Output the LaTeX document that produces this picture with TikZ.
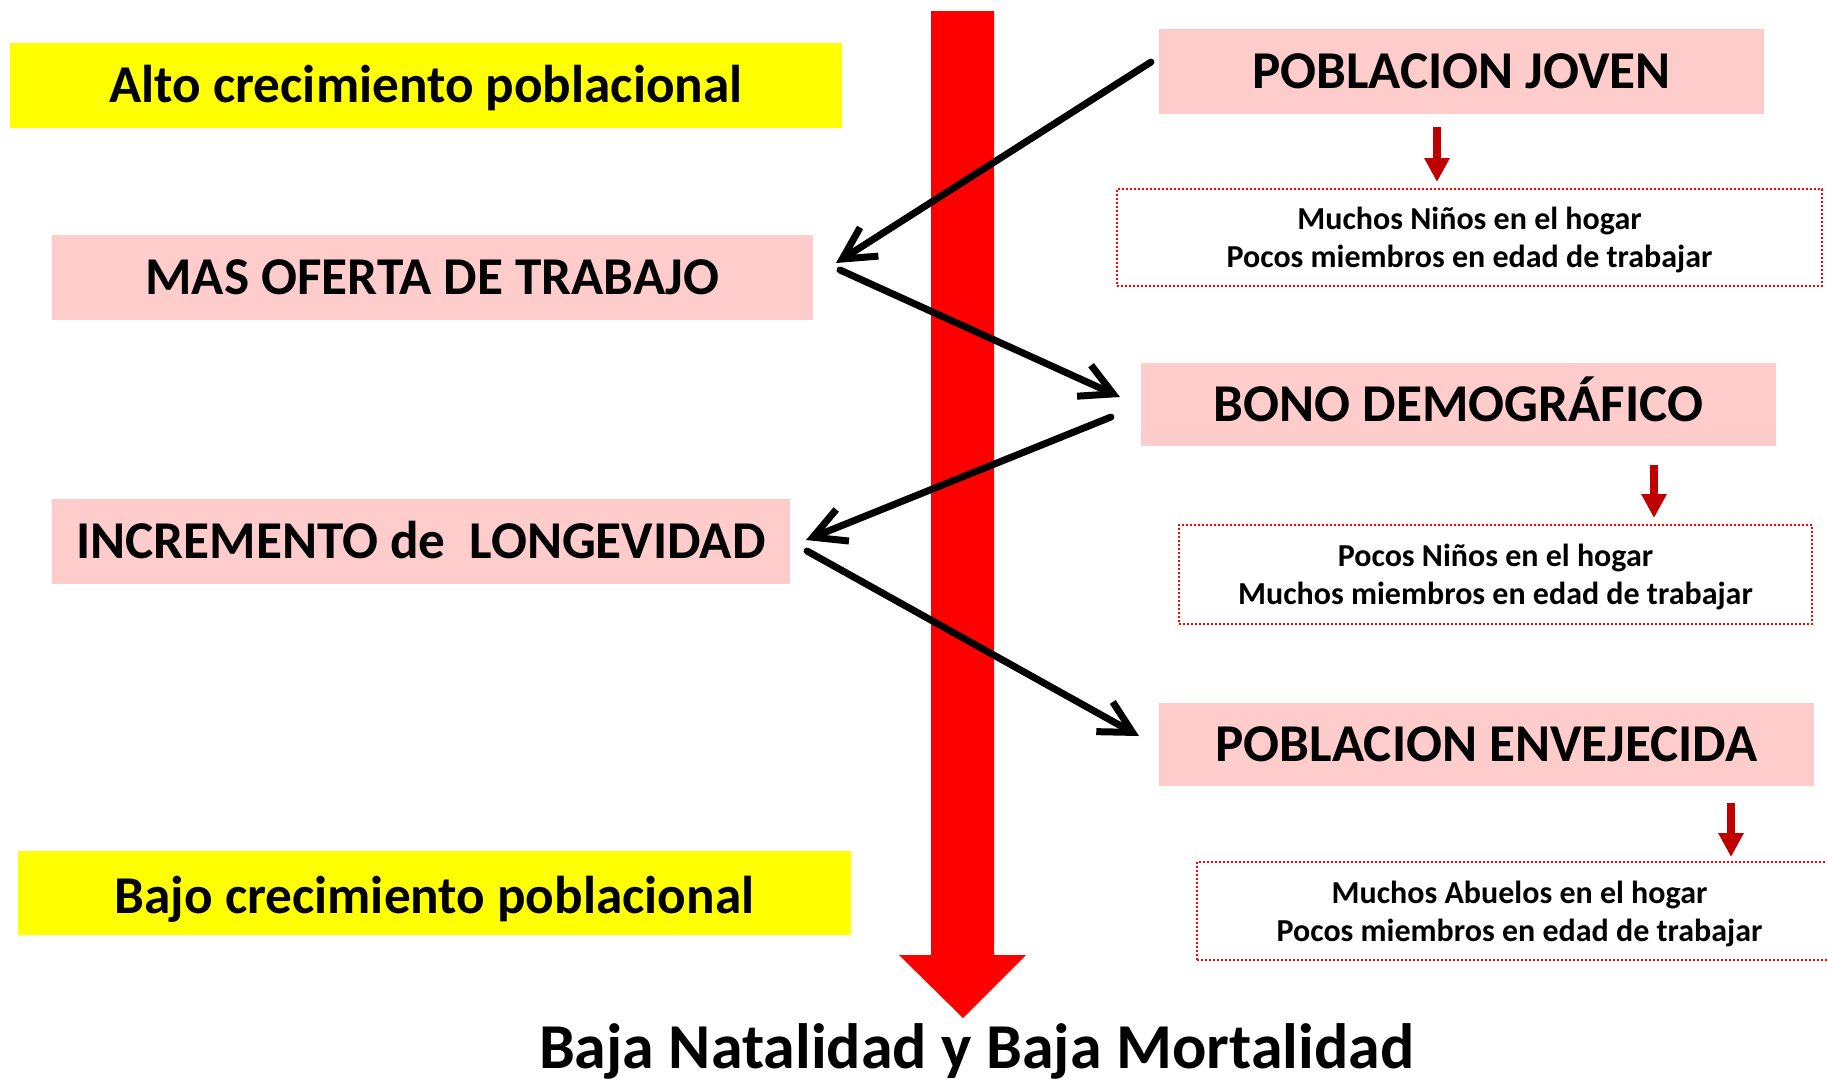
\documentclass[tikz,border=0pt]{standalone}
\usepackage{fontspec}
\setmainfont{Carlito}
\usetikzlibrary{arrows.meta}
\definecolor{pinkbox}{HTML}{FFCCCC}
\definecolor{yellowbox}{HTML}{FFFF00}
\definecolor{darkred}{HTML}{C00000}
\begin{document}
\begin{tikzpicture}[x=0.5pt,y=-0.5pt,
  boxbase/.style={inner sep=0pt,outer sep=0pt,align=center,text height=17.1pt,text depth=0pt,font=\bfseries\fontsize{26.6}{30}\selectfont},
  pinkbox/.style={boxbase,fill=pinkbox},
  yellowbox/.style={boxbase,fill=yellowbox},
  notebox/.style={inner sep=0pt,outer sep=0pt,align=center,draw=red,line width=0.75pt,dash pattern=on 1pt off 1pt,
    text depth=0pt,font=\bfseries\fontsize{16}{19}\selectfont},
  blackarrow/.style={draw=black,line width=3.5pt,line cap=round,line join=round,-{Straight Barb[length=16pt,width=17pt]}},
  redarrow/.style={draw=darkred,line width=4pt,-{Triangle[length=12pt,width=12pt]}}
]
\useasboundingbox (0,0) rectangle (1827,1084);
% big red arrow
\fill[red] (931,11) -- (994,11) -- (994,955) -- (1026,955) -- (963,1018) -- (899,955) -- (931,955) -- cycle;
% left boxes
\node[yellowbox,minimum width=416pt,minimum height=42.5pt] (alto) at (426,85.5) {Alto crecimiento poblacional};
\node[pinkbox,minimum width=380.5pt,minimum height=42.5pt] (mas) at (432.5,277.5) {MAS OFERTA DE TRABAJO};
\node[pinkbox,minimum width=369pt,minimum height=42.5pt] (inc) at (421,541.5) {INCREMENTO de\ \ LONGEVIDAD};
\node[yellowbox,minimum width=416.5pt,minimum height=42pt] (bajo) at (434.5,893) {\raisebox{-1.5pt}{Bajo crecimiento poblacional}};
% right boxes
\node[pinkbox,minimum width=302.5pt,minimum height=42.5pt] (pj) at (1461.5,71.5) {POBLACION JOVEN};
\node[pinkbox,minimum width=317.5pt,minimum height=41.5pt] (bono) at (1458.5,404.5) {BONO DEMOGRÁFICO};
\node[pinkbox,minimum width=327.5pt,minimum height=41.5pt] (env) at (1486.5,744.5) {POBLACION ENVEJECIDA};
\node[notebox,minimum width=352.5pt,minimum height=48.5pt] (d1) at (1469.5,237.5) {Muchos Niños en el hogar\\Pocos miembros en edad de trabajar};
\node[notebox,minimum width=316.5pt,minimum height=49.5pt] (d2) at (1495.5,574.5) {Pocos Niños en el hogar\\Muchos miembros en edad de trabajar};
\node[notebox,minimum width=322.5pt,minimum height=49pt] (d3) at (1519.5,911) {Muchos Abuelos en el hogar\\Pocos miembros en edad de trabajar};
% bottom title
\node[anchor=base,inner sep=0pt,font=\bfseries\fontsize{32}{36}\selectfont] (title) at (976.5,1068) {Baja Natalidad y Baja Mortalidad};
% connector end points
\coordinate (a1s) at (1151,62);  \coordinate (a1e) at (836,263);
\coordinate (a2s) at (840,270);  \coordinate (a2e) at (1120,397);
\coordinate (a3s) at (1111,417); \coordinate (a3e) at (806,540);
\coordinate (a4s) at (807,551);  \coordinate (a4e) at (1139,736);
\draw[blackarrow] (a1s) -- (a1e);
\draw[blackarrow] (a2s) -- (a2e);
\draw[blackarrow] (a3s) -- (a3e);
\draw[blackarrow] (a4s) -- (a4e);
% small red arrows
\coordinate (r1s) at (1437,127); \coordinate (r1e) at (1437,182);
\coordinate (r2s) at (1654,465); \coordinate (r2e) at (1654,518);
\coordinate (r3s) at (1731,803); \coordinate (r3e) at (1731,857);
\draw[redarrow] (r1s) -- (r1e);
\draw[redarrow] (r2s) -- (r2e);
\draw[redarrow] (r3s) -- (r3e);
\end{tikzpicture}
\end{document}
